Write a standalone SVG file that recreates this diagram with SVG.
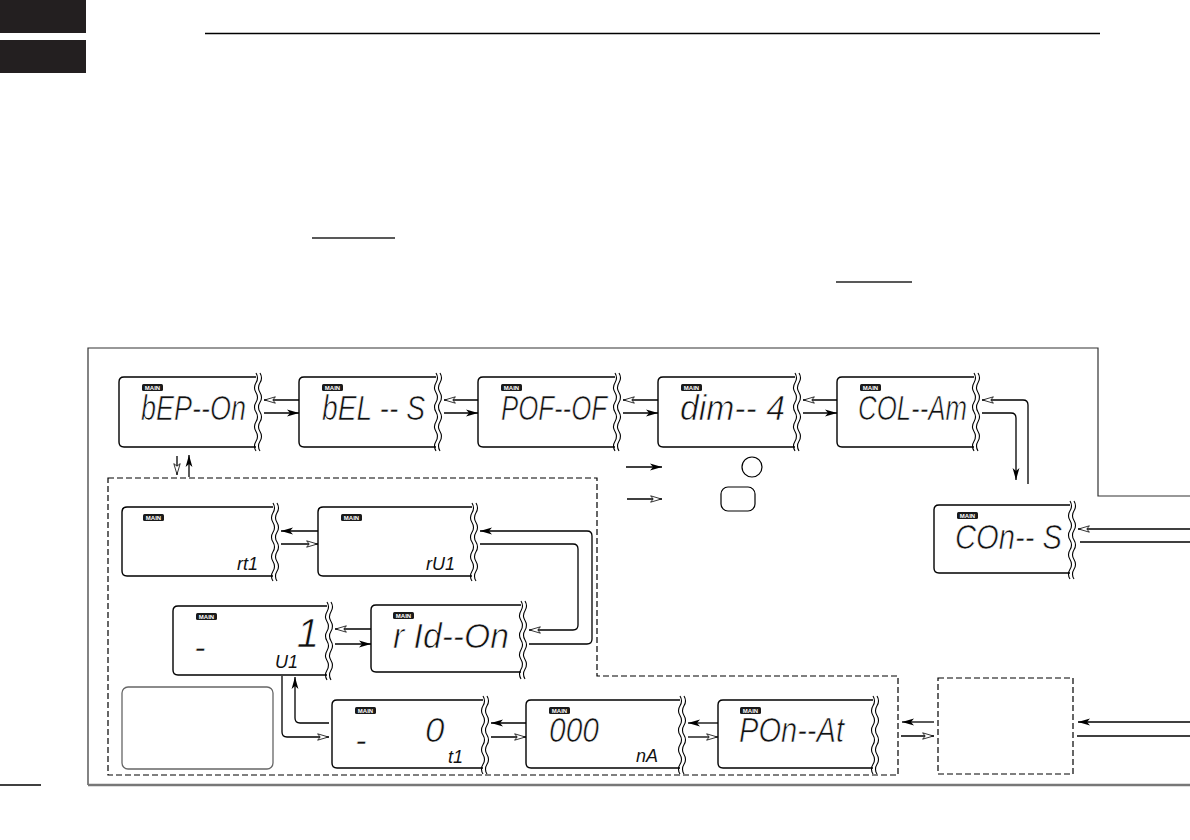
<svg xmlns="http://www.w3.org/2000/svg" xmlns:xlink="http://www.w3.org/1999/xlink" width="1190" height="840" viewBox="0 0 1190 840">
<style>
.lcd{fill:none;stroke:#000;stroke-width:1.4}
.big{font-family:"Liberation Sans","DejaVu Sans",sans-serif;font-style:italic;font-size:35px;fill:#111;stroke:#fff;stroke-width:0.7}
.sm{font-family:"Liberation Sans","DejaVu Sans",sans-serif;font-style:italic;font-size:18px;fill:#111;text-anchor:end}
.badge{fill:#1a1a1a}
.bt{font-family:"Liberation Sans",sans-serif;font-weight:bold;font-size:6px;fill:#fff;text-anchor:middle}
.ln{fill:none;stroke:#000;stroke-width:1.3}
.sol{marker-end:url(#sa)}
.hol{marker-end:url(#ha)}
.dash{fill:none;stroke:#000;stroke-width:1.2;stroke-dasharray:6 3}
</style>
<defs>
<marker id="sa" viewBox="0 0 12 8" refX="12" refY="4" markerWidth="12" markerHeight="8" orient="auto" markerUnits="userSpaceOnUse"><path d="M0,0.6 L12,4 L0,7.4 L3,4 Z" fill="#000"/></marker>
<marker id="ha" viewBox="0 0 12 8" refX="12" refY="4" markerWidth="12" markerHeight="8" orient="auto" markerUnits="userSpaceOnUse"><path d="M0.6,0.8 L11.4,4 L0.6,7.2 L3.2,4 Z" fill="#fff" stroke="#000" stroke-width="0.8"/></marker>
<path id="wv" d="M0,0 q3,4.875 0,9.75 t0,9.75 t0,9.75 t0,9.75 t0,9.75 t0,9.75 t0,9.75 t0,9.75 M4,0 q3,4.875 0,9.75 t0,9.75 t0,9.75 t0,9.75 t0,9.75 t0,9.75 t0,9.75 t0,9.75" fill="none" stroke="#000" stroke-width="1.1"/>
<g id="mb"><rect class="badge" x="0" y="0" width="21" height="7" rx="1.5"/><text class="bt" x="10.5" y="5.8">MAIN</text></g>
</defs>

<g id="page">
<rect x="0" y="0" width="86" height="33" fill="#231f20"/>
<rect x="0" y="40" width="86" height="33" fill="#231f20"/>
<line x1="205" y1="33.5" x2="1100" y2="33.5" stroke="#000" stroke-width="1.5"/>
<line x1="312" y1="238" x2="395" y2="238" stroke="#222" stroke-width="1.5"/>
<line x1="836" y1="282" x2="912" y2="282" stroke="#222" stroke-width="1.5"/>
<line x1="0" y1="785" x2="41" y2="785" stroke="#000" stroke-width="1.3"/>
<path d="M88,785 V348 H1098 V496 H1190" fill="none" stroke="#333" stroke-width="1.2"/>
<line x1="88" y1="785" x2="1190" y2="785" stroke="#777" stroke-width="2.5"/>
</g>

<g id="box-settings"><path class="dash" d="M108,478 H597 V676 H898 V775 H108 Z"/></g>
<g id="box-small"><rect class="dash" x="938" y="678" width="135" height="96"/></g>
<g id="box-blank"><rect x="122" y="687" width="151" height="82" rx="6" fill="none" stroke="#666" stroke-width="1.3"/></g>

<g id="n-bep"><path class="lcd" d="M256,377 H124 Q119,377 119,382 V442 Q119,447 124,447 H256"/><use href="#wv" x="256" y="373"/><use href="#mb" x="142" y="384"/><text class="big" x="141" y="420" textLength="105" lengthAdjust="spacingAndGlyphs">bEP--On</text></g>
<g id="n-bel"><path class="lcd" d="M436,377 H304 Q299,377 299,382 V442 Q299,447 304,447 H436"/><use href="#wv" x="436" y="373"/><use href="#mb" x="322" y="384"/><text class="big" x="322" y="420" textLength="103" lengthAdjust="spacingAndGlyphs">bEL -- S</text></g>
<g id="n-pof"><path class="lcd" d="M615,377 H483 Q478,377 478,382 V442 Q478,447 483,447 H615"/><use href="#wv" x="615" y="373"/><use href="#mb" x="501" y="384"/><text class="big" x="501" y="420" textLength="106" lengthAdjust="spacingAndGlyphs">POF--OF</text></g>
<g id="n-dim"><path class="lcd" d="M795,377 H663 Q658,377 658,382 V442 Q658,447 663,447 H795"/><use href="#wv" x="795" y="373"/><use href="#mb" x="681" y="384"/><text class="big" x="680" y="420" textLength="105" lengthAdjust="spacingAndGlyphs">dim-- 4</text></g>
<g id="n-col"><path class="lcd" d="M974,377 H842 Q837,377 837,382 V442 Q837,447 842,447 H974"/><use href="#wv" x="974" y="373"/><use href="#mb" x="860" y="384"/><text class="big" x="858" y="420" textLength="109" lengthAdjust="spacingAndGlyphs">COL--Am</text></g>
<g id="n-con"><path class="lcd" d="M1070,505 H939 Q934,505 934,510 V568 Q934,573 939,573 H1070"/><use href="#wv" x="1070" y="501"/><use href="#mb" x="957" y="512"/><text class="big" x="955" y="549" textLength="107" lengthAdjust="spacingAndGlyphs">COn-- S</text></g>

<g id="n-rt1"><path class="lcd" d="M273,507 H127 Q122,507 122,512 V571 Q122,576 127,576 H273"/><use href="#wv" x="273" y="503"/><use href="#mb" x="143" y="514"/><text class="sm" x="258" y="570">rt1</text></g>
<g id="n-ru1"><path class="lcd" d="M472,507 H323 Q318,507 318,512 V571 Q318,576 323,576 H472"/><use href="#wv" x="472" y="503"/><use href="#mb" x="341" y="514"/><text class="sm" x="455" y="570">rU1</text></g>
<g id="n-u1"><path class="lcd" d="M327,606 H178 Q173,606 173,611 V670 Q173,675 178,675 H327"/><use href="#wv" x="327" y="602"/><use href="#mb" x="196" y="613"/><text class="big" x="194" y="659">-</text><text class="big" x="319" y="647" style="font-size:40px;text-anchor:end">1</text><text class="sm" x="298" y="668">U1</text></g>
<g id="n-rid"><path class="lcd" d="M521,605 H376 Q371,605 371,610 V667 Q371,672 376,672 H521"/><use href="#wv" x="521" y="601"/><use href="#mb" x="393" y="612"/><text class="big" x="393" y="648" textLength="116" lengthAdjust="spacingAndGlyphs">r Id--On</text></g>

<g id="n-t1"><path class="lcd" d="M483,700 H337 Q332,700 332,705 V763 Q332,768 337,768 H483"/><use href="#wv" x="483" y="696"/><use href="#mb" x="355" y="707"/><text class="big" x="355" y="752">-</text><text class="big" x="425" y="742">0</text><text class="sm" x="463" y="763">t1</text></g>
<g id="n-na"><path class="lcd" d="M680,700 H531 Q526,700 526,705 V763 Q526,768 531,768 H680"/><use href="#wv" x="680" y="696"/><use href="#mb" x="549" y="707"/><text class="big" x="549" y="742" textLength="50" lengthAdjust="spacingAndGlyphs">000</text><text class="sm" x="658" y="762">nA</text></g>
<g id="n-pon"><path class="lcd" d="M873,700 H723 Q718,700 718,705 V763 Q718,768 723,768 H873"/><use href="#wv" x="873" y="696"/><use href="#mb" x="740" y="707"/><text class="big" x="739" y="742" textLength="105" lengthAdjust="spacingAndGlyphs">POn--At</text></g>

<g id="legend">
<path class="ln sol" d="M626,467 H662"/>
<circle cx="752" cy="467" r="10" fill="none" stroke="#000" stroke-width="1.2"/>
<path class="ln hol" d="M627,499 H662"/>
<rect x="721" y="487" width="34" height="24" rx="7" fill="none" stroke="#000" stroke-width="1.2"/>
</g>

<g id="connectors">
<path class="ln hol" d="M299,400 H264"/><path class="ln sol" d="M264,413 H299"/>
<path class="ln hol" d="M478,400 H444"/><path class="ln sol" d="M444,413 H478"/>
<path class="ln hol" d="M658,400 H623"/><path class="ln sol" d="M623,413 H658"/>
<path class="ln hol" d="M837,400 H803"/><path class="ln sol" d="M803,413 H837"/>
<path class="ln hol" d="M1028,484 V405 Q1028,400 1023,400 H982"/>
<path class="ln sol" d="M982,413 H1011 Q1016,413 1016,418 V480"/>
<path class="ln hol" d="M1190,529 H1078"/>
<path class="ln" d="M1080,542 H1190"/>
<path class="ln hol" d="M177,456 V475"/>
<path class="ln sol" d="M189,477 V455"/>
<path class="ln sol" d="M318,531 H281"/><path class="ln hol" d="M281,544 H318"/>
<path class="ln hol" d="M480,544 H573 Q578,544 578,549 V625 Q578,630 573,630 H529"/>
<path class="ln sol" d="M529,644 H587 Q592,644 592,639 V536 Q592,531 587,531 H480"/>
<path class="ln hol" d="M371,629 H335"/><path class="ln sol" d="M335,644 H371"/>
<path class="ln hol" d="M282,676 V732 Q282,737 287,737 H329"/>
<path class="ln sol" d="M329,723 H300 Q295,723 295,718 V677"/>
<path class="ln sol" d="M526,723 H491"/><path class="ln hol" d="M491,737 H526"/>
<path class="ln sol" d="M718,723 H688"/><path class="ln hol" d="M688,737 H718"/>
<path class="ln sol" d="M934,722 H902"/><path class="ln hol" d="M901,736 H934"/>
<path class="ln sol" d="M1190,722 H1078"/>
<path class="ln" d="M1077,736 H1190"/>
</g>
</svg>
